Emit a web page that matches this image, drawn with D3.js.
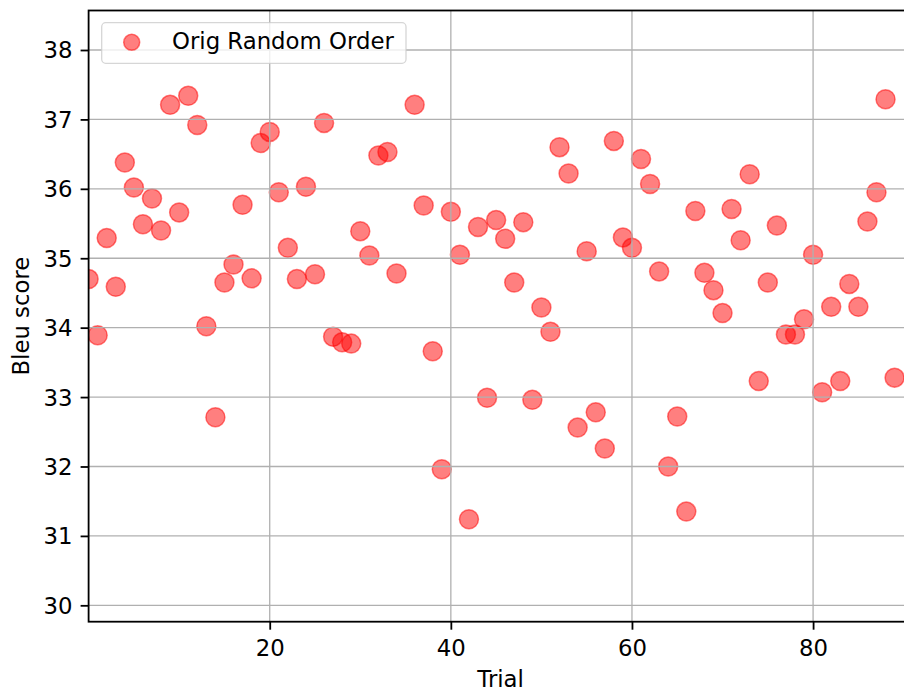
<!DOCTYPE html>
<html>
<head>
<meta charset="utf-8">
<script src="https://cdn.jsdelivr.net/npm/d3@7/dist/d3.min.js"></script>
<style>
  body { margin: 0; background: #fff; }
  text { font-family: "DejaVu Sans", sans-serif; }
</style>
</head>
<body>
<script>
// Bleu score per trial (index = trial number), trial 35 has no visible point
let scores = [
  34.70, 33.89, 35.29, 34.59, 36.38, 36.02, 35.49, 35.86, 35.40, 37.21,
  35.66, 37.34, 36.92, 34.02, 32.71, 34.65, 34.91, 35.77, 34.71, 36.66,
  36.82, 35.95, 35.15, 34.70, 36.03, 34.77, 36.95, 33.87, 33.79, 33.77,
  35.39, 35.04, 36.48, 36.53, 34.78, null,  37.21, 35.76, 33.66, 31.96,
  35.67, 35.05, 31.24, 35.45, 32.99, 35.55, 35.28, 34.65, 35.52, 32.96,
  34.29, 33.94, 36.60, 36.22, 32.56, 35.10, 32.78, 32.26, 36.69, 35.30,
  35.15, 36.43, 36.07, 34.81, 32.00, 32.72, 31.35, 35.68, 34.79, 34.54,
  34.21, 35.71, 35.26, 36.21, 33.23, 34.65, 35.47, 33.90, 33.90, 34.12,
  35.05, 33.07, 34.30, 33.23, 34.63, 34.30, 35.53, 35.95, 37.29, 33.28
]
let xTicks = [20, 40, 60, 80]
let yTicks = [30, 31, 32, 33, 34, 35, 36, 37, 38]
let seriesName = 'Orig Random Order'

let width = 904
let height = 690
const margin = { top: 10.5, right: -8.7, bottom: 68.3, left: 88.6 };
let plotWidth = width - margin.left - margin.right;
let plotHeight = height - margin.top - margin.bottom;
const fs = 22.8;

let svg = d3.select('body')
    .append('svg')
    .attr('width', width)
    .attr('height', height);

let x = d3.scaleLinear().domain([0, 91]).range([0, plotWidth]);
let y = d3.scaleLinear().domain([29.764, 38.569]).range([plotHeight, 0]);

let plot = svg.append('g').attr('transform', `translate(${margin.left},${margin.top})`);

plot.append('clipPath').attr('id', 'clip')
    .append('rect').attr('width', plotWidth).attr('height', plotHeight);

// points (matplotlib draws the grid on top of scatter collections)
let pts = scores.map((s, i) => ({ trial: i, score: s })).filter(d => d.score !== null);
plot.append('g').attr('clip-path', 'url(#clip)')
    .selectAll('circle').data(pts)
    .join('circle')
    .attr('cx', d => x(d.trial))
    .attr('cy', d => y(d.score))
    .attr('r', 9.5)
    .attr('fill', 'red').attr('fill-opacity', 0.5)
    .attr('stroke', 'red').attr('stroke-opacity', 0.5).attr('stroke-width', 1.5);

// grid
let grid = plot.append('g').attr('stroke', '#b0b0b0').attr('stroke-width', 1.3);
grid.selectAll('line.gx').data(xTicks).join('line').attr('class', 'gx')
    .attr('x1', d => x(d)).attr('x2', d => x(d)).attr('y1', 0).attr('y2', plotHeight);
grid.selectAll('line.gy').data(yTicks).join('line').attr('class', 'gy')
    .attr('x1', 0).attr('x2', plotWidth).attr('y1', d => y(d)).attr('y2', d => y(d));

// axes
let xAxis = plot.append('g').attr('transform', `translate(0,${plotHeight})`)
    .call(d3.axisBottom(x).tickValues(xTicks).tickSize(8).tickPadding(10).tickSizeOuter(0));
let yAxis = plot.append('g')
    .call(d3.axisLeft(y).tickValues(yTicks).tickSize(8).tickPadding(8).tickSizeOuter(0));
[xAxis, yAxis].forEach(a => {
    a.select('.domain').remove();
    a.selectAll('line').attr('stroke', '#000').attr('stroke-width', 1.8);
    a.selectAll('text').attr('font-size', fs).attr('fill', '#000')
        .attr('font-family', '"DejaVu Sans", sans-serif');
});
yAxis.selectAll('text').attr('dy', '0.35em');

// spines
plot.append('rect')
    .attr('width', plotWidth).attr('height', plotHeight)
    .attr('fill', 'none').attr('stroke', '#000').attr('stroke-width', 1.8);

// axis labels
svg.append('text')
    .attr('x', margin.left + plotWidth / 2).attr('y', 686.5)
    .attr('text-anchor', 'middle').attr('font-size', fs)
    .text('Trial');
svg.append('text')
    .attr('transform', `translate(28.5,${margin.top + plotHeight / 2}) rotate(-90)`)
    .attr('text-anchor', 'middle').attr('font-size', fs)
    .text('Bleu score');

// legend
let legend = svg.append('g');
legend.append('rect')
    .attr('x', 101.7).attr('y', 22.7).attr('width', 304.3).attr('height', 40.6).attr('rx', 4)
    .attr('fill', '#fff').attr('fill-opacity', 0.8)
    .attr('stroke', '#cccccc').attr('stroke-opacity', 0.8).attr('stroke-width', 1.3);
legend.append('circle')
    .attr('cx', 131.7).attr('cy', 42.3).attr('r', 8)
    .attr('fill', 'red').attr('fill-opacity', 0.5)
    .attr('stroke', 'red').attr('stroke-opacity', 0.5).attr('stroke-width', 1.5);
legend.append('text')
    .attr('x', 172).attr('y', 49.3).attr('font-size', fs)
    .text(seriesName);
</script>
</body>
</html>
